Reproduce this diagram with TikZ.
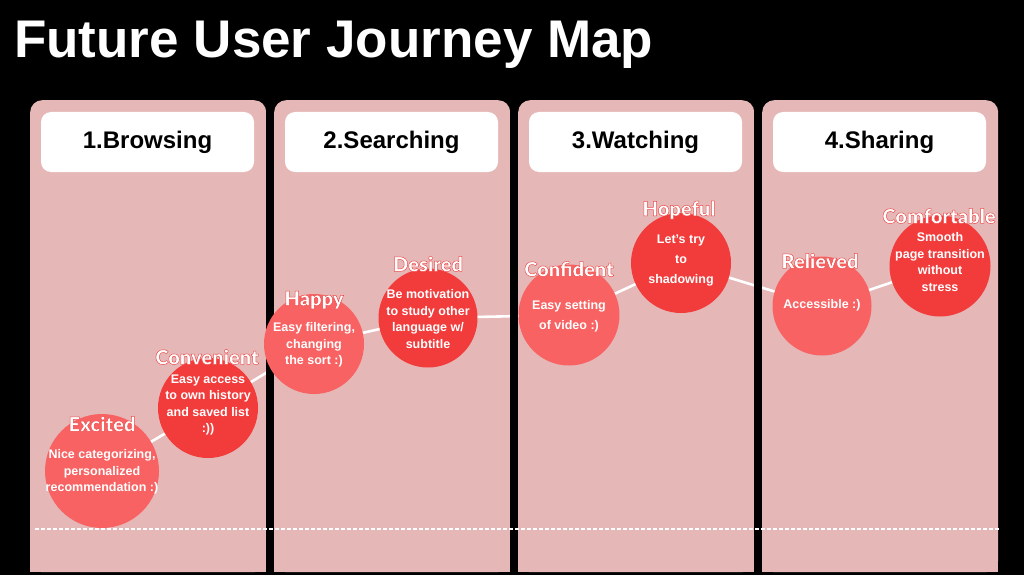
\documentclass[tikz,border=0pt]{standalone}
\usepackage{fontspec}
\setmainfont{Liberation Sans}
\newfontfamily\emofont{Lato Black}[FakeBold=2.5]
\definecolor{panelc}{HTML}{E5B7B7}
\definecolor{lightc}{HTML}{F86262}
\definecolor{darkc}{HTML}{F23B3B}
\newcommand{\outl}[1]{\special{pdf:code 0.93 0.30 0.30 RG}#1}
\tikzset{
  panel/.style={fill=panelc, rounded corners=12pt, minimum width=236pt, minimum height=472pt, anchor=north west, inner sep=0pt},
  header/.style={fill=white, rounded corners=10pt, minimum width=213pt, minimum height=60pt, inner sep=0pt, font=\fontsize{24}{28}\selectfont\bfseries, text=black},
  lightcirc/.style={circle, fill=lightc, minimum size=#1, inner sep=0pt},
  darkcirc/.style={circle, fill=darkc, minimum size=#1, inner sep=0pt},
  emo/.style={font=\fontsize{20}{22}\selectfont\emofont, text=white, inner sep=0pt},
  body/.style={font=\fontsize{12.5}{16.5}\selectfont\bfseries, text=white, align=center, inner sep=0pt},
  link/.style={draw=white, line width=2.6pt},
  gap/.style={fill=black, draw=none},
}
\begin{document}
\begin{tikzpicture}[x=1pt,y=-1pt]
\fill[black] (0,0) rectangle (1024,575);
\useasboundingbox (0,0) rectangle (1024,575);
\node[anchor=west, text=white, font=\fontsize{53}{60}\selectfont\bfseries, inner sep=0pt] (title) at (14,45) {Future User Journey Map};
% panels
\node[panel] (p1) at (30,100) {};
\node[panel] (p2) at (274,100) {};
\node[panel] (p3) at (518,100) {};
\node[panel] (p4) at (762,100) {};
\fill[panelc] (30,540) rectangle (998,572);
% headers
\node[header] (h1) at (147.5,142) {1.Browsing};
\node[header] (h2) at (391.5,142) {2.Searching};
\node[header] (h3) at (635.5,142) {3.Watching};
\node[header] (h4) at (879.5,142) {4.Sharing};
% circle centres
\coordinate (cExc) at (102,471);
\coordinate (cCon) at (208,408);
\coordinate (cHap) at (314,344);
\coordinate (cDes) at (428,318);
\coordinate (cCnf) at (569,315);
\coordinate (cHop) at (681,263);
\coordinate (cRel) at (822,306);
\coordinate (cCom) at (940,266);
% links
\draw[link] (cExc) -- (cCon) -- (cHap) -- (cDes) -- (cCnf) -- (cHop) -- (cRel) -- (cCom);
% gaps between panels
\fill[gap] (266,100) rectangle (274,575);
\fill[gap] (510,100) rectangle (518,575);
\fill[gap] (754,100) rectangle (762,575);
% baseline
\coordinate (bl0) at (35,529);
\coordinate (bl1) at (1000,529);
\draw[white, line width=2.2pt, dash pattern=on 3.5pt off 2.5pt] (bl0) -- (bl1);
% circles
\node[lightcirc=114pt] (Exc) at (cExc) {};
\node[darkcirc=100pt] (Con) at (cCon) {};
\node[lightcirc=100pt] (Hap) at (cHap) {};
\node[darkcirc=99pt] (Des) at (cDes) {};
\node[lightcirc=101pt] (Cnf) at (cCnf) {};
\node[darkcirc=100pt] (Hop) at (cHop) {};
\node[lightcirc=99pt] (Rel) at (cRel) {};
\node[darkcirc=101pt] (Com) at (cCom) {};
% emotion labels
\node[emo] (lExc) at (102,424) {\outl{Excited}};
\node[emo] (lCon) at (207,357) {\outl{Convenient}};
\node[emo] (lHap) at (314,300) {\outl{Happy}};
\node[emo] (lDes) at (428,264) {\outl{Desired}};
\node[emo] (lCnf) at (569,269) {\outl{Confident}};
\node[emo] (lHop) at (679,210) {\outl{Hopeful}};
\node[emo] (lRel) at (820,261) {\outl{Relieved}};
\node[emo] (lCom) at (939,216) {\outl{Comfortable}};
% body texts
\node[body] (tExc) at (102,472) {Nice categorizing,\\personalized\\recommendation :)};
\node[body] (tCon) at (208,405) {Easy access\\to own history\\and saved list\\:))};
\node[body] (tHap) at (314,345) {Easy filtering,\\changing\\the sort :)};
\node[body] (tDes) at (428,319) {Be motivation\\to study other\\language w/\\subtitle};
\node[body, font=\fontsize{12.5}{20}\selectfont\bfseries] (tCnf) at (569,316) {Easy setting\\of video :)};
\node[body, font=\fontsize{12.5}{20}\selectfont\bfseries] (tHop) at (681,261) {Let’s try\\to\\shadowing};
\node[body] (tRel) at (822,305) {Accessible :)};
\node[body] (tCom) at (940,262) {Smooth\\page transition\\without\\stress};
\end{tikzpicture}
\end{document}
